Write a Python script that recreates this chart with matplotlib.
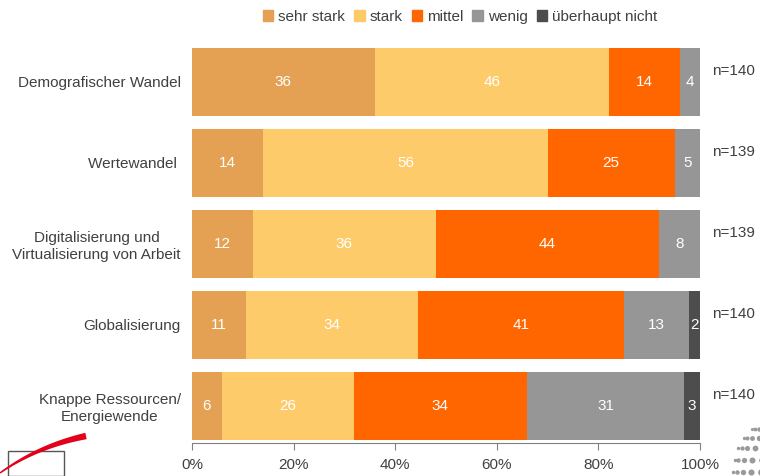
import numpy as np
import matplotlib.pyplot as plt
from matplotlib.patches import Rectangle, Polygon
from matplotlib.lines import Line2D

plt.rcParams['font.family'] = ['Liberation Sans', 'DejaVu Sans']

categories = [
    "Demografischer Wandel",
    "Wertewandel ",
    "Digitalisierung und\nVirtualisierung von Arbeit",
    "Globalisierung",
    "Knappe Ressourcen/\nEnergiewende",
]
series = ["sehr stark", "stark", "mittel", "wenig", "überhaupt nicht"]
colors = ["#E4A153", "#FECB6B", "#FF6600", "#969696", "#4D4D4D"]

sehr_stark = [36, 14, 12, 10.7, 5.9]
stark = [46, 56, 36, 33.8, 26.0]
mittel = [14, 25, 44, 40.6, 34.0]
wenig = [4, 5, 8, 12.7, 31.0]
ueberhaupt_nicht = [0, 0, 0, 2.2, 3.1]
n_labels = ["n=140", "n=139", "n=139", "n=140", "n=140"]

text_col = "#404040"
fs = 11

fig = plt.figure(figsize=(7.6, 4.76), dpi=100)
ax = fig.add_axes([192 / 760, 1 - 443 / 476, 508 / 760, (443 - 41.5) / 476])

y = np.arange(len(categories))
left = np.zeros(len(categories))
for name, vals, col in zip(series, [sehr_stark, stark, mittel, wenig, ueberhaupt_nicht], colors):
    vals = np.array(vals, dtype=float)
    ax.barh(y, vals, left=left, height=0.84, color=col, label=name)
    for yi, (l, v) in enumerate(zip(left, vals)):
        if v > 0:
            ax.text(l + v / 2, yi, f"{v:.0f}", ha="center", va="center",
                    color="white", fontsize=fs)
    left += vals

for yi, lab in enumerate(n_labels):
    ax.text(102.3, yi - 0.14, lab, ha="left", va="center", color=text_col,
            fontsize=fs, clip_on=False)

ax.set_xlim(0, 100)
ax.set_ylim(4.457, -0.5)
ax.set_xticks(np.arange(0, 101, 20))
ax.set_xticklabels([f"{t}%" for t in range(0, 101, 20)])
ax.set_yticks(y)
ax.set_yticklabels(categories, ha="right", multialignment="center")
ax.tick_params(axis="y", length=0, pad=8, labelsize=fs, labelcolor=text_col)
ax.tick_params(axis="x", length=5, color="#808080", labelsize=fs,
               labelcolor=text_col, pad=6)
for s in ["top", "right", "left"]:
    ax.spines[s].set_visible(False)
ax.spines["bottom"].set_color("#808080")

handles = [Rectangle((0, 0), 1, 1, color=c) for c in colors]
fig.legend(handles, series, loc="center", bbox_to_anchor=(460 / 760, 1 - 17 / 476),
           ncol=5, frameon=False, fontsize=fs, handlelength=0.7, handleheight=0.7,
           handletextpad=0.3, columnspacing=0.6, labelcolor=text_col)

# logo fragment bottom left: box + red swoosh (pixel coords, y down)
fig.add_artist(Rectangle((8 / 760, 0), 56 / 760, (476 - 451) / 476, fill=False,
                         edgecolor="#555555", lw=1))
t = np.linspace(0, 1, 60)
p0, p1, p2 = np.array([0, 473]), np.array([38, 446]), np.array([86, 436])
curve = ((1 - t) ** 2)[:, None] * p0 + (2 * (1 - t) * t)[:, None] * p1 + (t ** 2)[:, None] * p2
d = np.gradient(curve, axis=0)
nrm = np.stack([-d[:, 1], d[:, 0]], axis=1)
nrm /= np.linalg.norm(nrm, axis=1)[:, None]
w = (1.5 + 5 * t)[:, None] / 2
pts = np.vstack([curve + nrm * w, (curve - nrm * w)[::-1]])
fig.add_artist(Polygon(np.column_stack([pts[:, 0] / 760, 1 - pts[:, 1] / 476]),
                       closed=True, color="#E2001A", lw=0))

# dotted globe fragment bottom right
cx, cy, rad = 790, 472, 58
for lat in np.radians(np.arange(-84, 90, 12)):
    for lon in np.radians(np.arange(-90, 91, 12)):
        px = cx + rad * np.cos(lat) * np.sin(lon)
        py = cy - rad * np.sin(lat)
        depth = np.cos(lat) * np.cos(lon)
        if depth > 0.08 and px < 762 and py < 478 and py > 428:
            fig.add_artist(Line2D([px / 760], [1 - py / 476], ls="none", marker="o",
                                  ms=1.8 + 3.5 * depth, color="#9A9A9A", mec="none"))

fig.savefig("out.png", dpi=100)
